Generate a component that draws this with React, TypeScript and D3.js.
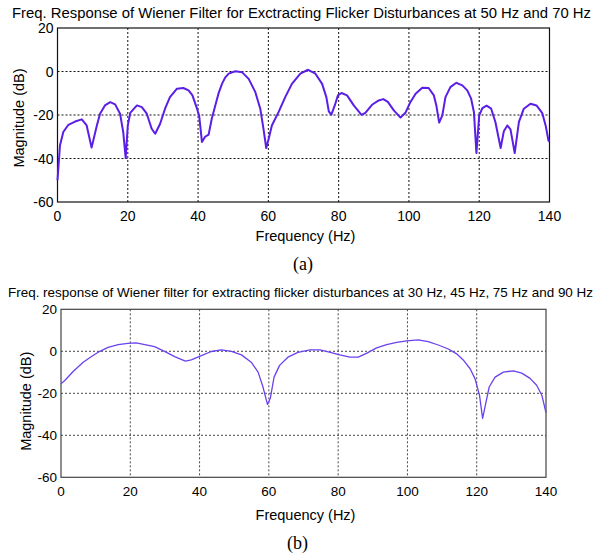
import React from 'react';
import * as d3 from 'd3';

// panel (a): 50 Hz / 70 Hz filter
const freqA = [0, 0.7, 1.65, 3.1, 5, 6.9, 8.3, 9.7, 11.2, 12.1, 13.5, 15, 16.4, 17.8, 18.7, 19.4, 20, 20.7, 22.6, 24, 25.4, 26.8, 27.8, 29.2, 30.6, 32, 34, 35.8, 37.3, 38.4, 39.7, 40.3, 41.1, 42, 43, 43.9, 44.9, 45.8, 46.8, 47.7, 48.7, 50.6, 52.5, 54.4, 56.3, 57.7, 58.6, 59.4, 60.1, 61, 62.9, 64.8, 66.7, 69.1, 71.3, 73.4, 75.3, 76.5, 77.2, 77.9, 78.9, 79.8, 80.8, 82.4, 84.3, 86.5, 87.6, 89.5, 91.4, 92.7, 94, 95.7, 97.6, 99, 100.4, 101.9, 103.8, 105.6, 107.1, 107.8, 108.6, 109.5, 110.4, 111.8, 113.5, 115.2, 116.6, 117.7, 118.5, 119.2, 120, 120.9, 122.1, 123.4, 124.6, 126.1, 127, 128, 128.9, 130.1, 131.3, 132.7, 134.6, 136.3, 137.9, 138.9, 139.7, 140];
const magA = [-50, -34, -27.8, -24.5, -23, -22, -24.8, -35, -24.8, -19.4, -15.6, -14.1, -15.1, -19.4, -27.8, -39.8, -24.8, -19, -15.6, -16.4, -19.4, -26.3, -28.6, -24, -17.1, -11.8, -7.9, -7.6, -8.7, -11, -17.1, -20.2, -32.4, -30, -29, -21.7, -15.6, -10.2, -5.7, -2.8, -1, 0.1, -0.3, -3.4, -9.5, -17.1, -26.3, -35.2, -30.9, -24.8, -18.7, -11.8, -5.7, -1, 0.8, -1, -5.7, -11.8, -18.3, -19.9, -15.6, -11, -9.9, -11, -15.6, -19.9, -19, -15.3, -13.3, -12.7, -14, -17.9, -21.2, -19, -14.1, -10.2, -7.5, -7.6, -11, -15.6, -23.5, -20.2, -11.8, -7.2, -5.2, -6.4, -8.7, -12.5, -18.7, -37.5, -20.2, -16.8, -15.7, -17.1, -23.2, -35.2, -27.5, -24.8, -26.6, -37.5, -23.2, -17.1, -14.8, -15.6, -19, -24.8, -31.7, -32.2];

// panel (b): 30, 45, 75, 90 Hz filter
const freqB = [0, 1.1, 3.5, 6.4, 8.8, 11.2, 13.6, 16.5, 19.3, 21.7, 24.2, 27, 29.9, 32.8, 35.9, 37.6, 40, 43.4, 46.3, 49.2, 52.1, 54.9, 56.9, 58.3, 59.6, 60.4, 61.5, 63.1, 65.5, 68.4, 71.9, 74.8, 77.7, 80.5, 83.4, 85.8, 88.3, 91.1, 94, 96.9, 99.8, 103.1, 106, 108.9, 111.8, 114.2, 116.1, 118.1, 119.5, 120.8, 121.7, 122.7, 123.6, 125.3, 127.7, 130.6, 133, 135.4, 137.3, 138.8, 140];
const magB = [-15.4, -13.9, -9.6, -5.2, -2.5, 0, 1.9, 3.2, 3.8, 4, 3.2, 2.2, 0, -2.5, -4.7, -4.1, -2.4, -0.1, 0.7, 0, -1.7, -5.2, -9.9, -17, -25.3, -22.5, -12.3, -6.7, -2.8, -0.5, 0.7, 0.7, -0.5, -1.7, -2.8, -2.8, -0.9, 1.6, 3.2, 4.2, 5, 5.4, 4.6, 3, 1.1, -1.2, -4.1, -8.3, -13, -20.9, -31.9, -24.1, -17, -12.3, -9.9, -9.3, -10.4, -12.9, -16.2, -20.9, -29.3];

const xTicks = [0, 20, 40, 60, 80, 100, 120, 140];
const yTicks = [-60, -40, -20, 0, 20];

const titleA = 'Freq. Response of Wiener Filter for Exctracting Flicker Disturbances at 50 Hz and 70 Hz';
const titleB = 'Freq. response of Wiener filter for extracting flicker disturbances at 30 Hz, 45 Hz, 75 Hz and 90 Hz';

const FONT = 'Liberation Sans, Arial, sans-serif';

const Panel = ({ freq, mag, box, title, titleBox, label, color, lw, frame, font, caption }) => {
  const x = d3.scaleLinear().domain([0, 140]).range([box.left, box.right]);
  const y = d3.scaleLinear().domain([-60, 20]).range([box.bottom, box.top]);
  const line = d3.line<number>().x((d) => x(freq[d])).y((d) => y(mag[d]));
  const idx = d3.range(freq.length);

  return (
    <g>
      <text x={(titleBox[0] + titleBox[1]) / 2} y={titleBox[2]} textAnchor="middle" fontSize={titleBox[3]}
        fontFamily={FONT} textLength={titleBox[1] - titleBox[0]} lengthAdjust="spacingAndGlyphs">{title}</text>
      {/* grid */}
      {xTicks.slice(1, -1).map((t) => (
        <line key={'gx' + t} x1={x(t)} x2={x(t)} y1={box.top} y2={box.bottom} stroke={frame} strokeWidth={1} strokeDasharray="2,2" />
      ))}
      {yTicks.slice(1, -1).map((t) => (
        <line key={'gy' + t} x1={box.left} x2={box.right} y1={y(t)} y2={y(t)} stroke={frame} strokeWidth={1} strokeDasharray="2,2" />
      ))}
      <rect x={box.left} y={box.top} width={box.right - box.left} height={box.bottom - box.top} fill="none" stroke={frame} strokeWidth={1.2} />
      {xTicks.map((t) => (
        <text key={'tx' + t} x={x(t)} y={box.bottom + 19} textAnchor="middle" fontSize={font} fontFamily={FONT}>{t}</text>
      ))}
      {yTicks.map((t) => (
        <text key={'ty' + t} x={box.left - 4} y={y(t) + 5} textAnchor="end" fontSize={font} fontFamily={FONT}>{t}</text>
      ))}
      <path d={line(idx)} fill="none" stroke={color} strokeWidth={lw} strokeLinejoin="round" />
      <text x={(box.left + box.right) / 2 + 2} y={box.bottom + label[0]} textAnchor="middle" fontSize={14.5} fontFamily={FONT}>Frequency (Hz)</text>
      <text transform={`translate(${label[1]},${(box.top + box.bottom) / 2 + label[2]}) rotate(-90)`} textAnchor="middle"
        fontSize={14.5} fontFamily={FONT}>Magnitude (dB)</text>
      <text x={caption[0]} y={caption[1]} textAnchor="middle" fontSize={18} fontFamily="Liberation Serif, Times New Roman, serif">{caption[2]}</text>
    </g>
  );
};

export default function App() {
  return (
    <svg width={599} height={559} style={{ position: 'absolute', left: 0, top: 0, background: '#fff' }}>
      <Panel freq={freqA} mag={magA} box={{ left: 57.5, right: 549.5, top: 28, bottom: 202 }}
        title={titleA} titleBox={[12, 591, 18, 14]} label={[39, 24, 3]} color="#5a1ee6" lw={2}
        frame="#111" font={14} caption={[303, 270, '(a)']} />
      <Panel freq={freqB} mag={magB} box={{ left: 61, right: 546, top: 309.3, bottom: 477.3 }}
        title={titleB} titleBox={[8, 593, 297, 13.5]} label={[43, 31, 8]} color="#6b42ef" lw={1.3}
        frame="#444" font={13.5} caption={[297.5, 549, '(b)']} />
    </svg>
  );
}
